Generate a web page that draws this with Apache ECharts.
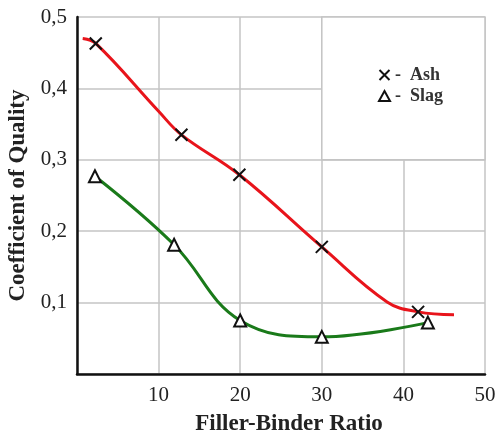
<!DOCTYPE html>
<html lang="en">
<head>
    <meta charset="utf-8">
    <script type="text/javascript" src="https://cdn.jsdelivr.net/npm/echarts@6/dist/echarts.min.js"></script>
</head>
<body style="margin: 0">
<div id="container" style="width:496px;height:432px"></div>

<script type="text/javascript">
    // values (points without a marker are read off the curve itself)
    var ashX = [0.7, 2.3, 10, 12.8, 19.9, 30, 38, 41.8, 46.2];
    var ashY = [0.470, 0.463, 0.368, 0.335, 0.279, 0.178, 0.101, 0.087, 0.083];
    var ashMark = [false, true, false, true, true, true, false, true, false];
    var slagX = [2.2, 11.9, 20, 30, 43];
    var slagY = [0.277, 0.181, 0.075, 0.052, 0.072];
    var xTicks = [10, 20, 30, 40, 50];
    var yTicks = ['0,1', '0,2', '0,3', '0,4', '0,5'];

    var serif = '"Liberation Serif", "DejaVu Serif", serif';
    var cross = 'path://M0,0L10,10M10,0L0,10';

    var ashData = ashX.map(function (x, i) {
        var d = { value: [x, ashY[i]] };
        if (!ashMark[i]) d.symbol = 'none';
        return d;
    });
    var slagData = slagX.map(function (x, i) {
        return [x, slagY[i]];
    });

    var dom = document.getElementById("container");
    var myChart = echarts.init(dom);
    var option = {
        backgroundColor: '#fff',
        animation: false,
        grid: { left: 77, right: 11, top: 17, bottom: 58, containLabel: false, outerBoundsMode: 'none' },
        legend: {
            orient: 'vertical',
            left: 372,
            top: 61,
            itemWidth: 11,
            itemHeight: 10,
            itemGap: 3,
            formatter: '-  {name}',
            textStyle: { fontFamily: serif, fontWeight: 'bold', fontSize: 18, color: '#333' },
            data: [
                { name: 'Ash', icon: cross, itemStyle: { color: 'none', borderColor: '#111', borderWidth: 2 } },
                { name: 'Slag', icon: 'triangle', itemStyle: { color: '#fff', borderColor: '#111', borderWidth: 2 } }
            ]
        },
        xAxis: {
            type: 'value',
            min: 0,
            max: 50,
            interval: 10,
            name: 'Filler-Binder Ratio',
            nameLocation: 'middle',
            nameGap: 39,
            nameTextStyle: { fontFamily: serif, fontWeight: 'bold', fontSize: 23, color: '#222', padding: [0, 0, 0, 16] },
            axisLine: { lineStyle: { color: '#111', width: 2.5 } },
            axisTick: { show: false },
            axisLabel: {
                fontFamily: serif, fontSize: 21, color: '#222', margin: 11,
                formatter: function (v) { return xTicks.indexOf(v) >= 0 ? String(v) : ''; }
            },
            splitLine: { show: true, lineStyle: { color: '#c4c4c4', width: 1.5 } }
        },
        yAxis: {
            type: 'value',
            min: 0,
            max: 0.5,
            interval: 0.1,
            name: 'Coefficient of Quality',
            nameLocation: 'middle',
            nameGap: 47,
            nameTextStyle: { fontFamily: serif, fontWeight: 'bold', fontSize: 23, color: '#222' },
            axisLine: { show: true, lineStyle: { color: '#111', width: 2.5 } },
            axisTick: { show: false },
            axisLabel: {
                fontFamily: serif, fontSize: 21, color: '#222', margin: 10,
                formatter: function (v) {
                    var i = Math.round(v * 10) - 1;
                    return i >= 0 ? yTicks[i] : '';
                }
            },
            splitLine: { show: true, lineStyle: { color: '#c4c4c4', width: 1.5 } }
        },
        series: [
            {
                name: 'Ash',
                type: 'line',
                smooth: 0.4,
                data: ashData,
                symbol: cross,
                symbolSize: 12,
                itemStyle: { color: 'none', borderColor: '#111', borderWidth: 2 },
                lineStyle: { color: '#e8141b', width: 3 },
                z: 3,
                markArea: {
                    silent: true,
                    itemStyle: { color: '#fff', borderColor: '#c4c4c4', borderWidth: 1.5 },
                    data: [[{ coord: [30, 0.3] }, { coord: [50, 0.5] }]]
                }
            },
            {
                name: 'Slag',
                type: 'line',
                smooth: 0.4,
                data: slagData,
                symbol: 'triangle',
                symbolSize: 12,
                itemStyle: { color: '#fff', borderColor: '#111', borderWidth: 2 },
                lineStyle: { color: '#1a7a1a', width: 3 },
                z: 3
            }
        ]
    };
    myChart.setOption(option);
</script>
</body>
</html>
